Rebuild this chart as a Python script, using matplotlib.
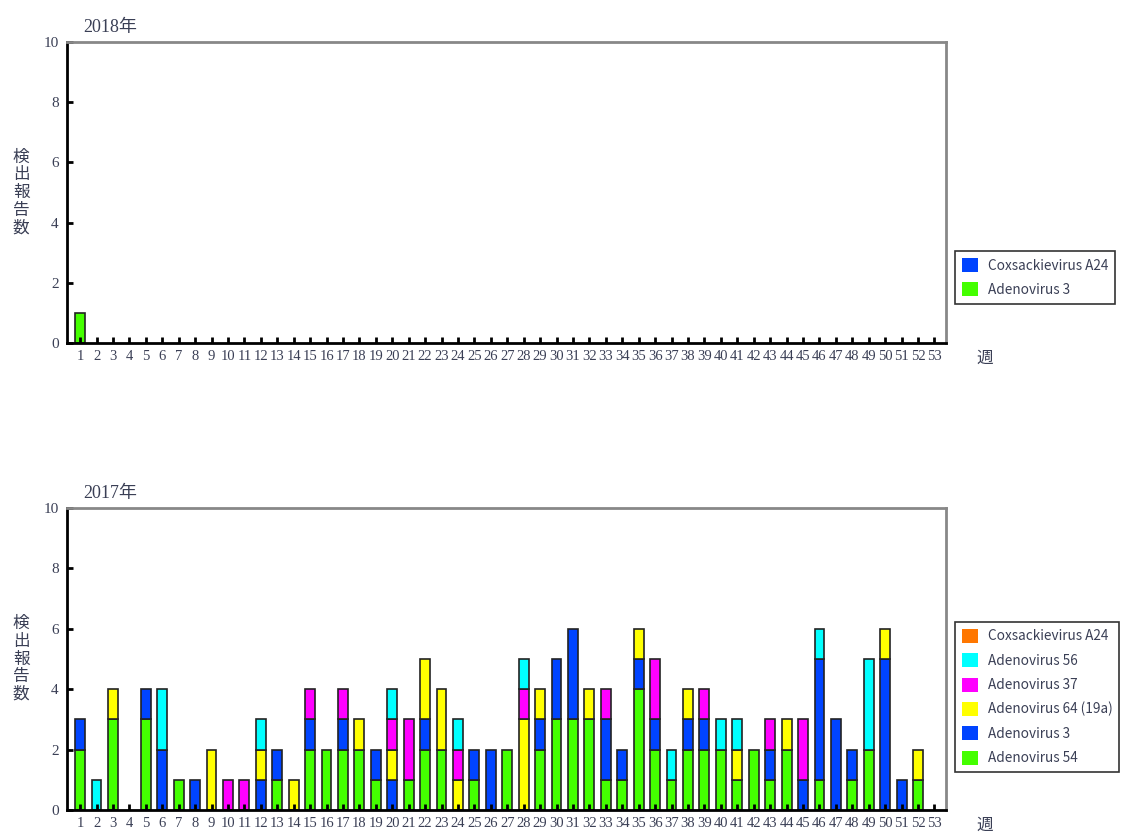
import matplotlib
matplotlib.use("Agg")
import matplotlib.pyplot as plt
import numpy as np
from matplotlib.patches import Patch

plt.rcParams['font.family'] = ['Liberation Serif', 'Noto Sans CJK JP', 'DejaVu Sans']

weeks = list(range(1, 54))

# 2018 data
s2018_cox_a24 = [0] * 53
s2018_ad3 = [1] + [0] * 52

# 2017 data (weeks 1..53)
ad54 = [2,0,3,0,3,0,1,0,0,0,0,0,1,0,2,2,2,2,1,0,1,2,2,0,1,0,2,0,2,3,3,3,1,1,4,2,1,2,2,2,1,2,1,2,0,1,0,1,2,0,0,1,0]
ad3  = [1,0,0,0,1,2,0,1,0,0,0,1,1,0,1,0,1,0,1,1,0,1,0,0,1,2,0,0,1,2,3,0,2,1,1,1,0,1,1,0,0,0,1,0,1,4,3,1,0,5,1,0,0]
ad64 = [0,0,1,0,0,0,0,0,2,0,0,1,0,1,0,0,0,1,0,1,0,2,2,1,0,0,0,3,1,0,0,1,0,0,1,0,0,1,0,0,1,0,0,1,0,0,0,0,0,1,0,1,0]
ad37 = [0,0,0,0,0,0,0,0,0,1,1,0,0,0,1,0,1,0,0,1,2,0,0,1,0,0,0,1,0,0,0,0,1,0,0,2,0,0,1,0,0,0,1,0,2,0,0,0,0,0,0,0,0]
ad56 = [0,1,0,0,0,2,0,0,0,0,0,1,0,0,0,0,0,0,0,1,0,0,0,1,0,0,0,1,0,0,0,0,0,0,0,0,1,0,0,1,1,0,0,0,0,1,0,0,3,0,0,0,0]
cox_a24 = [0] * 53

C_GREEN = '#44ff00'
C_BLUE = '#0044ff'
C_YELLOW = '#ffff00'
C_MAGENTA = '#ff00ff'
C_CYAN = '#00ffff'
C_ORANGE = '#ff7700'

TXT = '#3a3f55'

fig = plt.figure(figsize=(11.33, 8.34), dpi=100)

def style_axes(ax, title):
    ax.set_xlim(0.2, 53.7)
    ax.set_ylim(0, 10)
    ax.set_yticks([0, 2, 4, 6, 8, 10])
    ax.set_xticks(weeks)
    ax.set_xticklabels([str(w) for w in weeks], fontsize=10.5, color=TXT)
    for lab in ax.get_yticklabels():
        lab.set_fontsize(11)
        lab.set_color(TXT)
    ax.tick_params(axis='both', direction='in', length=4, width=2, color='black', pad=6)
    ax.tick_params(axis='x', pad=5)
    for s in ['left', 'bottom']:
        ax.spines[s].set_linewidth(2)
        ax.spines[s].set_color('black')
    for s in ['top', 'right']:
        ax.spines[s].set_linewidth(2)
        ax.spines[s].set_color('#888888')
    ax.text(0.018, 1.02, title, transform=ax.transAxes, fontsize=13, color=TXT,
            ha='left', va='bottom')
    ax.text(1.035, -0.052, '週', transform=ax.transAxes, fontsize=12, color=TXT,
            ha='left', va='center', family=['Noto Sans CJK JP'])
    ax.text(-0.052, 0.5, '検\n出\n報\n告\n数', transform=ax.transAxes, fontsize=12,
            color=TXT, ha='center', va='center', linespacing=1.05,
            family=['Noto Sans CJK JP'])

def make_legend(ax, handles, cy):
    leg = ax.legend(handles=handles, loc='center left', bbox_to_anchor=(1.0102, cy),
                    frameon=True, fancybox=False,
                    prop={'family': ['Noto Sans CJK JP'], 'size': 9.8},
                    handlelength=1.2, handleheight=1.2, handletextpad=0.7,
                    borderpad=0.5, labelspacing=0.72, borderaxespad=0)
    leg.get_frame().set_edgecolor('black')
    leg.get_frame().set_linewidth(1.2)
    for t in leg.get_texts():
        t.set_color(TXT)
    return leg

W = 0.6
EC = '#222222'

# Top: 2018
ax1 = fig.add_axes([0.0591, 0.5887, 0.7758, 0.3609])
b = np.zeros(53)
for vals, col in [(s2018_ad3, C_GREEN), (s2018_cox_a24, C_BLUE)]:
    v = np.array(vals, dtype=float)
    m = v > 0
    ax1.bar(np.array(weeks)[m], v[m], bottom=b[m], width=W, color=col, edgecolor=EC, linewidth=1.2)
    b += v
style_axes(ax1, '2018年')
make_legend(ax1, [Patch(facecolor=C_BLUE, edgecolor='none', label='Coxsackievirus A24'),
                  Patch(facecolor=C_GREEN, edgecolor='none', label='Adenovirus 3')], 0.2176)

# Bottom: 2017
ax2 = fig.add_axes([0.0591, 0.0288, 0.7758, 0.3621])
b = np.zeros(53)
series = [(ad54, C_GREEN, 'Adenovirus 54'), (ad3, C_BLUE, 'Adenovirus 3'),
          (ad64, C_YELLOW, 'Adenovirus 64 (19a)'), (ad37, C_MAGENTA, 'Adenovirus 37'),
          (ad56, C_CYAN, 'Adenovirus 56'), (cox_a24, C_ORANGE, 'Coxsackievirus A24')]
for vals, col, lab in series:
    v = np.array(vals, dtype=float)
    m = v > 0
    if m.any():
        ax2.bar(np.array(weeks)[m], v[m], bottom=b[m], width=W, color=col, edgecolor=EC, linewidth=1.2)
    b += v
style_axes(ax2, '2017年')
make_legend(ax2, [Patch(facecolor=c, edgecolor='none', label=l) for _, c, l in series[::-1]], 0.374)

fig.savefig('out.png', dpi=100)
